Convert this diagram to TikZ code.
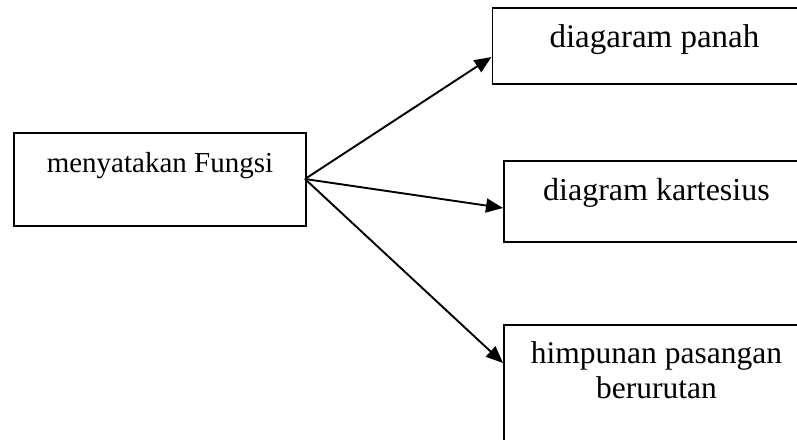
\documentclass[tikz,border=0pt]{standalone}
\usepackage{fontspec}
\setmainfont{Liberation Serif}
\usetikzlibrary{arrows.meta}
\begin{document}
\begin{tikzpicture}[x=1pt,y=-1pt,
  box/.style={draw=black, line width=1.9pt, rectangle, inner sep=0pt},
  lbl/.style={inner sep=0pt, anchor=base, align=center},
  fs/.style={font=\fontsize{#1}{35}\selectfont},
  link/.style={line width=1.9pt, -{Triangle[length=17pt,width=14pt]}}]
  \useasboundingbox (0,0) rectangle (797,439);
  \clip (0,0) rectangle (797,439);
  % boxes
  \node[box, minimum width=292pt, minimum height=93pt, anchor=north west] (fungsi) at (13,132) {};
  \node[box, minimum width=324pt, minimum height=76pt, anchor=north west] (panah) at (491.5,7) {};
  \node[box, minimum width=305pt, minimum height=81pt, anchor=north west] (kartesius) at (503,160) {};
  \node[box, minimum width=305pt, minimum height=140pt, anchor=north west] (pasangan) at (503,324) {};
  % texts
  \node[lbl, fs=29] (tf) at ([yshift=-40pt]fungsi.north) {menyatakan Fungsi};
  \node[lbl, fs=33] (tp) at ([yshift=-40pt]panah.north) {diagaram panah};
  \node[lbl, fs=32] (tk) at ([yshift=-40pt]kartesius.north) {diagram kartesius};
  \node[lbl, fs=31.5] (th1) at ([yshift=-39pt]pasangan.north) {himpunan pasangan};
  \node[lbl, fs=31.5] (th2) at ([yshift=-74pt]pasangan.north) {berurutan};
  % connectors
  \coordinate (src) at (305,179);
  \coordinate (e1) at (491.5,57);
  \coordinate (e2) at (503,208);
  \coordinate (e3) at (503,363);
  \draw[link] (src) -- (e1);
  \draw[link] (src) -- (e2);
  \draw[link] (src) -- (e3);
\end{tikzpicture}
\end{document}
